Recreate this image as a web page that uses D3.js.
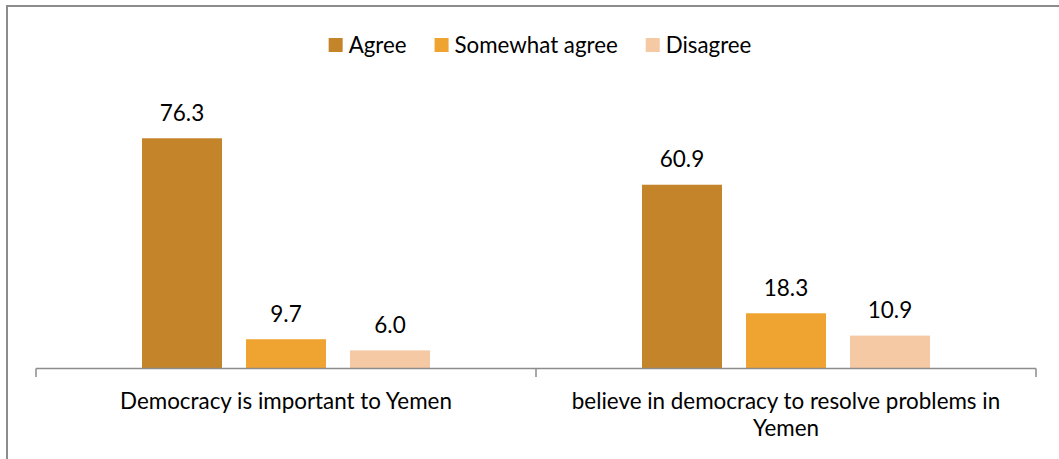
<!DOCTYPE html>
<html>
<head>
<meta charset="utf-8">
<script src="https://cdn.jsdelivr.net/npm/d3@7"></script>
<style>
  html, body { margin: 0; padding: 0; background: #fff; }
  svg { display: block; }
  text { font-family: Lato, "Open Sans", sans-serif; fill: #000; }
</style>
</head>
<body>
<svg id="chart" width="1059" height="459"></svg>
<script>
// Survey answers per statement
const categories = [
  ["Democracy is important to Yemen"],
  ["believe in democracy to resolve problems in", "Yemen"]
];
const categoryKeys = ["important", "resolve"];
const seriesNames = ["Agree", "Somewhat agree", "Disagree"];
const agreeValues = [76.3, 60.9];
const somewhatValues = [9.7, 18.3];
const disagreeValues = [6.0, 10.9];
const seriesColors = ["#c4842a", "#efa330", "#f5c9a4"];

const seriesValues = [agreeValues, somewhatValues, disagreeValues];

const svg = d3.select("#chart");
const W = 1059, H = 459;
const axisY = 368.5;
const plotLeft = 36, plotRight = 1036;

// outer frame
svg.append("rect")
  .attr("x", 7).attr("y", 6)
  .attr("width", W + 20).attr("height", H + 20)
  .attr("fill", "none")
  .attr("stroke", "#8c8c8c")
  .attr("stroke-width", 2);

const x0 = d3.scaleBand().domain(categoryKeys).range([plotLeft, plotRight]);
const x1 = d3.scaleBand().domain(seriesNames)
  .range([0, 312]).paddingInner(24 / 104).paddingOuter(12 / 104);
const groupOffset = (x0.bandwidth() - 312) / 2;
const y = d3.scaleLinear().domain([0, 80]).range([axisY, axisY - 241.4]);

// bars and value labels
const groups = svg.append("g").selectAll("g")
  .data(categoryKeys)
  .join("g")
  .attr("transform", d => `translate(${x0(d) + groupOffset},0)`);

groups.each(function (key, ci) {
  const g = d3.select(this);
  seriesNames.forEach((s, si) => {
    const v = seriesValues[si][ci];
    g.append("rect")
      .attr("x", x1(s))
      .attr("y", y(v))
      .attr("width", x1.bandwidth())
      .attr("height", axisY - y(v))
      .attr("fill", seriesColors[si]);
    g.append("text")
      .attr("x", x1(s) + x1.bandwidth() / 2)
      .attr("y", y(v) - 17.5)
      .attr("text-anchor", "middle")
      .attr("font-size", 22.5)
      .text(v.toFixed(1));
  });
});

// category axis
const axisG = svg.append("g").attr("transform", `translate(0,${axisY})`);
axisG.append("line")
  .attr("x1", plotLeft).attr("x2", plotRight)
  .attr("stroke", "#8c8c8c").attr("stroke-width", 1.5);
const tickXs = [plotLeft, ...categoryKeys.map(k => x0(k) + x0.bandwidth())];
axisG.selectAll("line.tick")
  .data(tickXs)
  .join("line")
  .attr("class", "tick")
  .attr("x1", d => d).attr("x2", d => d)
  .attr("y1", 0).attr("y2", 8.5)
  .attr("stroke", "#8c8c8c").attr("stroke-width", 1.5);

categoryKeys.forEach((k, i) => {
  const t = svg.append("text")
    .attr("text-anchor", "middle")
    .attr("font-size", 22.4);
  categories[i].forEach((line, li) => {
    t.append("tspan")
      .attr("x", x0(k) + x0.bandwidth() / 2)
      .attr("y", 409 + li * 26.7)
      .text(line);
  });
});

// legend
const legend = svg.append("g");
let lx = 0;
seriesNames.forEach((s, i) => {
  const item = legend.append("g").attr("transform", `translate(${lx},0)`);
  item.append("rect")
    .attr("x", 0).attr("y", 38)
    .attr("width", 14).attr("height", 14)
    .attr("fill", seriesColors[i]);
  const txt = item.append("text")
    .attr("x", 20).attr("y", 52.5)
    .attr("font-size", 22.3)
    .text(s);
  lx += 20 + txt.node().getComputedTextLength() + 28;
});
const legendWidth = lx - 28;
legend.attr("transform", `translate(${540 - legendWidth / 2},0)`);
</script>
</body>
</html>
